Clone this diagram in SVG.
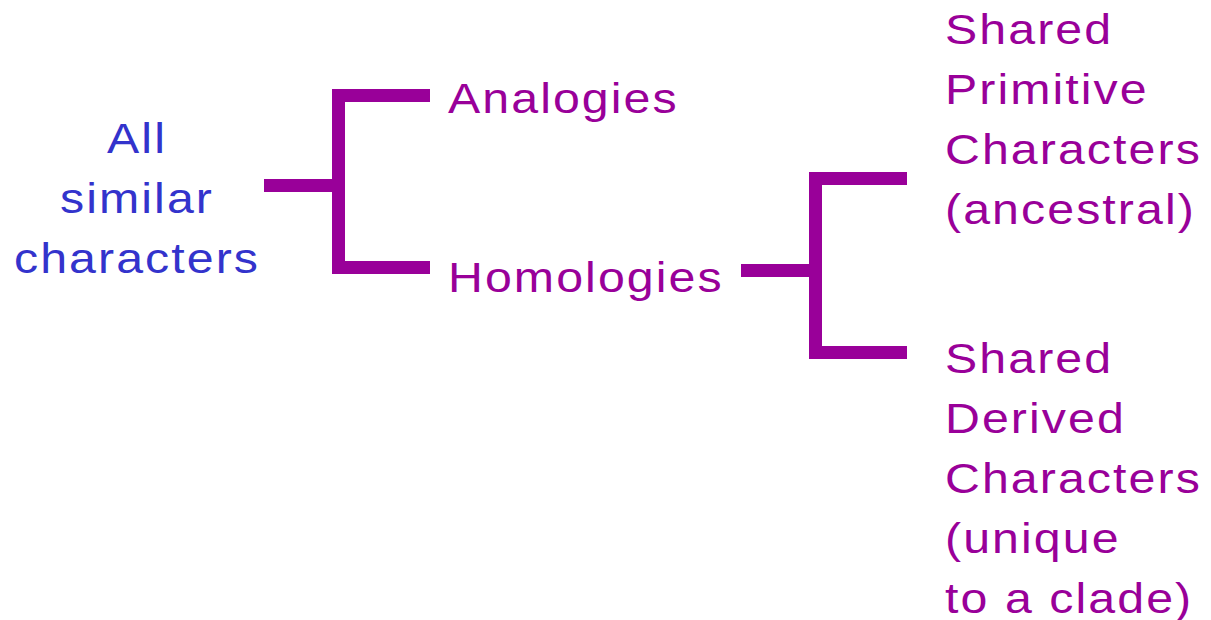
<svg xmlns="http://www.w3.org/2000/svg" width="1211" height="620" viewBox="0 0 1211 620">
  <style>
    text { font-family: "Liberation Sans", Arial, sans-serif; font-size: 42px; letter-spacing: 1.8px; }
    .blue { fill: #3333CC; }
    .purple { fill: #990099; }
    .bar { fill: #990099; }
  </style>
  <rect width="1211" height="620" fill="#ffffff"/>

  <!-- bracket connectors -->
  <g id="connectors">
    <!-- first split: all similar characters -> analogies / homologies -->
    <rect class="bar" x="264" y="179" width="75" height="13"/>
    <rect class="bar" x="332" y="89" width="13" height="185"/>
    <rect class="bar" x="332" y="89" width="98" height="13"/>
    <rect class="bar" x="332" y="261" width="98" height="13"/>
    <!-- second split: homologies -> primitive / derived -->
    <rect class="bar" x="741" y="264" width="75" height="13"/>
    <rect class="bar" x="809" y="172" width="13" height="187"/>
    <rect class="bar" x="809" y="172" width="98" height="13"/>
    <rect class="bar" x="809" y="346" width="98" height="13"/>
  </g>

  <!-- labels use a horizontally widened face -->
  <g id="node-all">
    <text class="blue" transform="translate(137 153) scale(1.15 1)" text-anchor="middle">All</text>
    <text class="blue" transform="translate(137 213) scale(1.15 1)" text-anchor="middle">similar</text>
    <text class="blue" transform="translate(137 273) scale(1.15 1)" text-anchor="middle">characters</text>
  </g>

  <g id="node-analogies">
    <text class="purple" transform="translate(448 113) scale(1.15 1)">Analogies</text>
  </g>

  <g id="node-homologies">
    <text class="purple" transform="translate(448 292) scale(1.15 1)">Homologies</text>
  </g>

  <g id="node-primitive">
    <text class="purple" transform="translate(945 44) scale(1.15 1)">Shared</text>
    <text class="purple" transform="translate(945 104) scale(1.15 1)">Primitive</text>
    <text class="purple" transform="translate(945 164) scale(1.15 1)">Characters</text>
    <text class="purple" transform="translate(945 224) scale(1.15 1)">(ancestral)</text>
  </g>

  <g id="node-derived">
    <text class="purple" transform="translate(945 373) scale(1.15 1)">Shared</text>
    <text class="purple" transform="translate(945 433) scale(1.15 1)">Derived</text>
    <text class="purple" transform="translate(945 493) scale(1.15 1)">Characters</text>
    <text class="purple" transform="translate(945 553) scale(1.15 1)">(unique</text>
    <text class="purple" transform="translate(945 613) scale(1.15 1)">to a clade)</text>
  </g>
</svg>
